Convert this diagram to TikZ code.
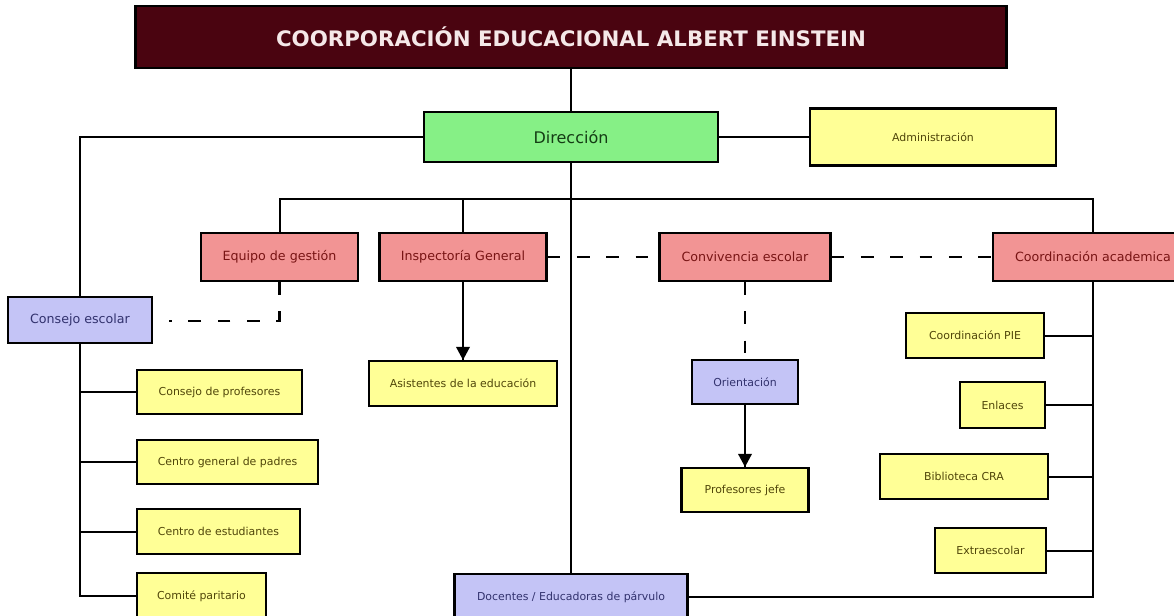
\documentclass[tikz,border=0pt]{standalone}
\usepackage{fontspec}
\setmainfont{DejaVu Sans}
\usetikzlibrary{calc}
\definecolor{granate}{RGB}{74,4,16}
\definecolor{verde}{RGB}{134,240,134}
\definecolor{amarillo}{RGB}{255,255,150}
\definecolor{salmon}{RGB}{242,148,148}
\definecolor{lila}{RGB}{196,196,246}
\definecolor{txtrojo}{RGB}{120,20,20}
\definecolor{txtamar}{RGB}{80,70,10}
\definecolor{txtlila}{RGB}{50,50,110}
\begin{document}
\begin{tikzpicture}[x=0.75pt,y=-0.75pt,line width=1.5pt,
	caja/.style 2 args={draw=black,line width=1.6pt,inner sep=0pt,minimum width=#1*0.75pt,minimum height=#2*0.75pt},
	rojo/.style={fill=salmon,text=txtrojo,font=\fontsize{9.5}{11}\selectfont},
	amar/.style={fill=amarillo,text=txtamar,font=\fontsize{8.2}{10}\selectfont},
	lila/.style={fill=lila,text=txtlila,font=\fontsize{8.2}{10}\selectfont},
	raya/.style={dash pattern=on 9.5pt off 12.5pt,line width=2.2pt}]
	\useasboundingbox (0,0) rectangle (1174,615);
	\node [caja={871}{62},fill=granate,text={rgb,255:red,245;green,232;blue,232},font=\bfseries\fontsize{16}{18}\selectfont] (titulo) at (571,37) {COORPORACIÓN EDUCACIONAL ALBERT EINSTEIN};
	\node [caja={294}{50},fill=verde,text={rgb,255:red,20;green,60;blue,20},font=\fontsize{12}{14}\selectfont] (direccion) at (571,137) {Dirección};
	\node [caja={246}{57},amar] (admin) at (933,137) {Administración};
	\node [caja={157}{48},rojo] (equipo) at (279.5,257) {Equipo de gestión};
	\node [caja={167}{48},rojo] (inspectoria) at (463,257) {Inspectoría General};
	\node [caja={171}{48},rojo] (convivencia) at (745,257) {Convivencia escolar};
	\node [caja={200}{48},rojo] (coordacad) at (1093,257) {Coordinación academica};
	\node [caja={144}{46},lila,font=\fontsize{9.5}{11}\selectfont] (consejo) at (80,320) {Consejo escolar};
	\node [caja={165}{44},amar] (profesores) at (219.5,392) {Consejo de profesores};
	\node [caja={181}{44},amar] (padres) at (227.5,462) {Centro general de padres};
	\node [caja={163}{45},amar] (estudiantes) at (218.5,531.5) {Centro de estudiantes};
	\node [caja={129}{46},amar] (comite) at (201.5,596) {Comité paritario};
	\node [caja={188}{45},amar] (asistentes) at (463,383.5) {Asistentes de la educación};
	\node [caja={106}{44},lila] (orientacion) at (745,382) {Orientación};
	\node [caja={127}{44},amar] (jefe) at (745,490) {Profesores jefe};
	\node [caja={233}{46},lila] (docentes) at (571,597) {Docentes / Educadoras de párvulo};
	\node [caja={138}{45},amar] (pie) at (975,335.5) {Coordinación PIE};
	\node [caja={85}{46},amar] (enlaces) at (1002.5,405) {Enlaces};
	\node [caja={168}{45},amar] (biblioteca) at (964,476.5) {Biblioteca CRA};
	\node [caja={111}{45},amar] (extra) at (990.5,550.5) {Extraescolar};
	\coordinate (bus) at (571,199);
	\draw (titulo.south) -- (direccion.north);
	\draw (direccion.east) -- (admin.west);
	\draw (direccion.west) -| (consejo.north);
	\draw (direccion.south) -- (docentes.north);
	\draw (equipo.north) |- (bus) -| (coordacad.north);
	\draw (inspectoria.north) -- (inspectoria.north |- bus);
	\draw [raya] (inspectoria.east) -- (convivencia.west);
	\draw [raya] (convivencia.east) -- (coordacad.west);
	\draw [raya] (convivencia.south) -- (orientacion.north);
	\draw [raya] (equipo.south) |- ($(consejo.east)+(16,1)$);
	\draw (inspectoria.south) -- (asistentes.north);
	\fill [black] (asistentes.north) -- ++(-7,-13) -- ++(14,0) -- cycle;
	\draw (orientacion.south) -- (jefe.north);
	\fill [black] (jefe.north) -- ++(-7,-13) -- ++(14,0) -- cycle;
	\draw (consejo.south) |- (comite.west);
	\draw (profesores.west) -- (profesores.west -| consejo.south);
	\draw (padres.west) -- (padres.west -| consejo.south);
	\draw (estudiantes.west) -- (estudiantes.west -| consejo.south);
	\draw (coordacad.south) |- (docentes.east);
	\draw (pie.east) -- (pie.east -| coordacad.south);
	\draw (enlaces.east) -- (enlaces.east -| coordacad.south);
	\draw (biblioteca.east) -- (biblioteca.east -| coordacad.south);
	\draw (extra.east) -- (extra.east -| coordacad.south);
\end{tikzpicture}
\end{document}
